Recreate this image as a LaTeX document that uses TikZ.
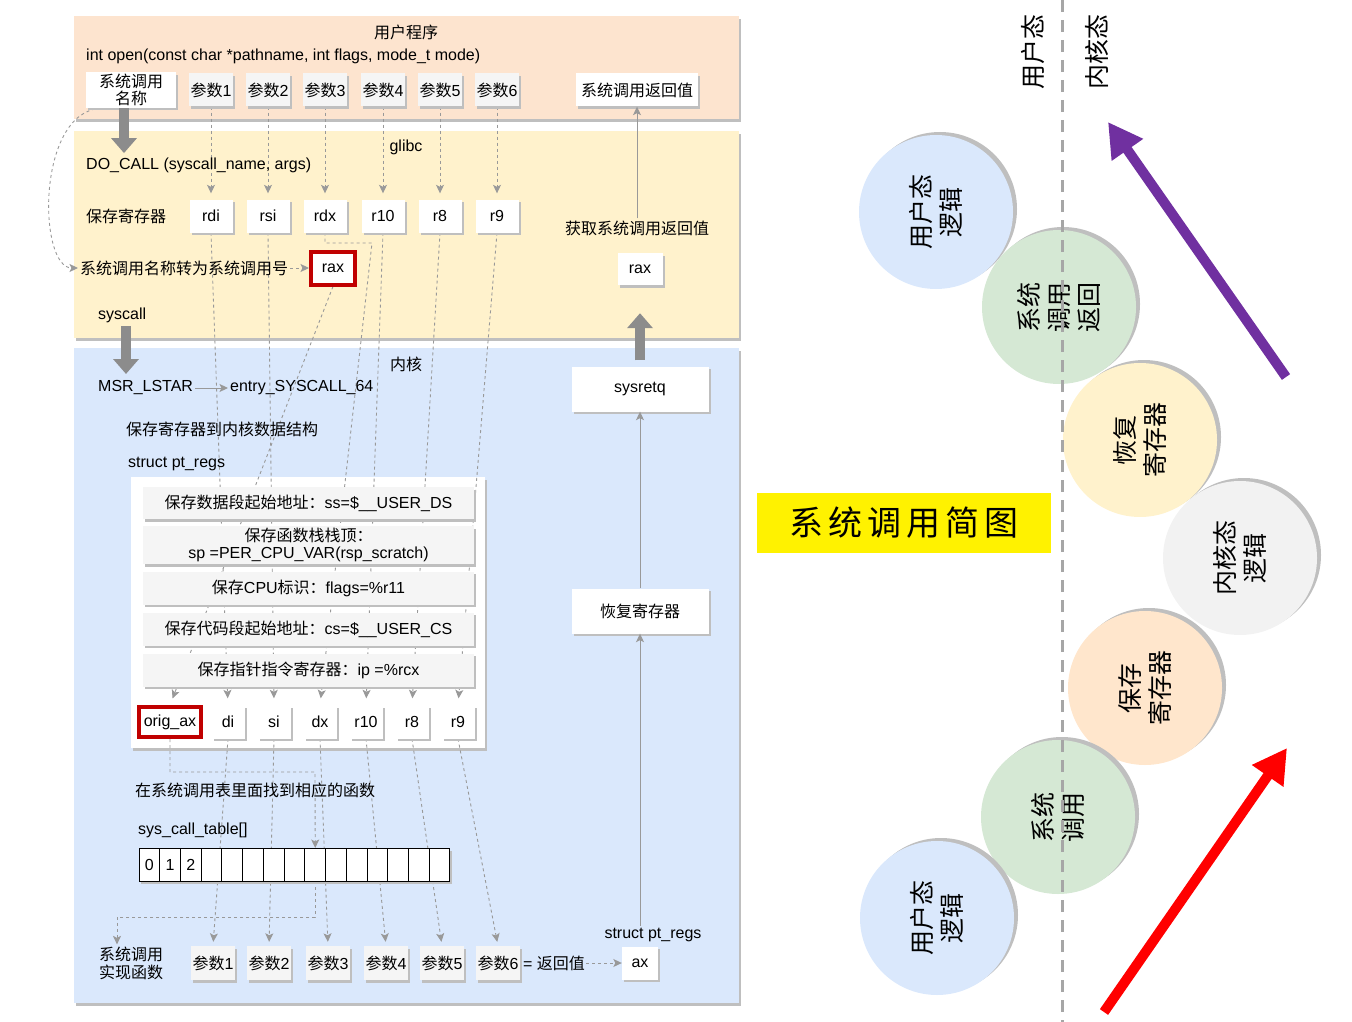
\documentclass[tikz,border=0pt]{standalone}
\usepackage{fontspec}
\setmainfont{Liberation Sans}
\newfontfamily\cjk{Noto Sans CJK SC}
\usetikzlibrary{arrows.meta,shadows,calc}
\definecolor{peachbg}{HTML}{FDE4CF}
\definecolor{glibcbg}{HTML}{FFF2CC}
\definecolor{kernbg}{HTML}{DAE8FC}
\definecolor{boxgray}{HTML}{F5F5F5}
\definecolor{lgray}{HTML}{999999}
\definecolor{darkred}{HTML}{C00000}
\definecolor{cblue}{HTML}{DAE8FC}
\definecolor{cgreen}{HTML}{D5E8D4}
\definecolor{cyellow}{HTML}{FFF2CC}
\definecolor{cgrey}{HTML}{F2F2F2}
\definecolor{cpeach}{HTML}{FFE6CC}
\definecolor{apurple}{HTML}{7030A0}
\newcommand\basefs{\fontsize{16}{18.5}\selectfont}
\newcommand\zhtxt[1]{{\cjk #1}}
\pgfdeclarelayer{back}
\pgfdeclarelayer{mid}
\pgfsetlayers{back,mid,main}
\begin{document}
\begin{tikzpicture}[x=1pt,y=-1pt,
  every node/.style={font=\basefs, inner sep=2pt},
  shad/.style={drop shadow={shadow xshift=2pt,shadow yshift=-2.5pt,fill=black!25,opacity=1}},
  panel/.style={anchor=north west, inner sep=0pt, shad},
  wbox/.style={fill=white, shad, minimum height=33, inner sep=2pt},
  gbox/.style={fill=boxgray, shad, minimum height=33, inner sep=2pt},
  redbox/.style={fill=white, draw=darkred, line width=4pt, inner sep=3pt},
  dline/.style={draw=lgray, dash pattern=on 3pt off 3pt, line width=0.9pt},
  myarr/.style={-{Stealth[length=8.5pt,width=8pt,inset=2pt]}},
  sline/.style={draw=lgray, line width=1pt},
  bigarrow/.style={draw=black!45, line width=10pt, -{Triangle[length=15pt,width=25pt]}},
  circ/.style={circle, minimum size=154, inner sep=0pt, drop shadow={shadow xshift=4pt,shadow yshift=3pt,fill=black!25,opacity=1}},
  ctext/.style={rotate=90, align=center, font=\cjk\fontsize{25}{30}\selectfont},
  cell/.style={draw=black, line width=1pt, fill=white, minimum width=20.73, minimum height=33, inner sep=0pt, outer sep=0pt, shad},
]
\useasboundingbox (0,0) rectangle (1352,1022);

% ---------- panels ----------
\begin{pgfonlayer}{back}
\node[panel, fill=peachbg, minimum width=665, minimum height=103] (pu) at (74,16) {};
\node[panel, fill=glibcbg, minimum width=665, minimum height=207] (pg) at (74,131) {};
\node[panel, fill=kernbg, minimum width=665, minimum height=655] (pk) at (74,348) {};
\node[panel, fill=white, minimum width=354, minimum height=271] (ptbox) at (131,477) {};
\end{pgfonlayer}

% ---------- user program ----------
\node (tuser) at (406,32) {\zhtxt{用户程序}};
\node[anchor=west] (topen) at (84,56) {int open(const char *pathname, int flags, mode\_t mode)};
\node[wbox, minimum width=90, minimum height=35, align=center, font=\cjk\fontsize{16}{17}\selectfont] (bname) at (131,90) {系统调用\\名称};
\foreach \n/\x in {1/211,2/268,3/325,4/383,5/440,6/497}
  \node[gbox, minimum width=43] (p\n) at (\x,90) {\zhtxt{参数}\n};
\node[wbox, minimum width=122] (bret) at (637,90) {\zhtxt{系统调用返回值}};

% ---------- glibc ----------
\node (tglibc) at (406,147) {glibc};
\node[anchor=west] (tdocall) at (84,165) {DO\_CALL (syscall\_name, args)};
\node[anchor=west] (tsave) at (84,216) {\zhtxt{保存寄存器}};
\foreach \n/\x/\t in {1/211/rdi,2/268/rsi,3/325/rdx,4/383/r10,5/440/r8,6/497/r9}
  \node[wbox, minimum width=43] (g\n) at (\x,216) {\t};
\node (tgetret) at (637,228) {\zhtxt{获取系统调用返回值}};
\node[anchor=west] (tconv) at (78,268) {\zhtxt{系统调用名称转为系统调用号}};
\node[redbox, minimum width=44, minimum height=33] (rax1) at (333,268) {rax};
\node[wbox, minimum width=45, minimum height=32] (rax2) at (640,269) {rax};
\node[anchor=west] (tsyscall) at (96,315) {syscall};

% ---------- kernel ----------
\node (tkernel) at (406,364) {\zhtxt{内核}};
\node[anchor=west] (tmsr) at (96,388) {MSR\_LSTAR};
\node[anchor=west] (tentry) at (228,388) {entry\_SYSCALL\_64};
\node[wbox, minimum width=137, minimum height=45] (sysretq) at (640,389) {sysretq};
\node[anchor=west] (tsavek) at (124,429) {\zhtxt{保存寄存器到内核数据结构}};
\node[anchor=west] (tpt) at (126,464) {struct pt\_regs};

\node[gbox, minimum width=331, minimum height=32] (row1) at (308.5,503) {\zhtxt{保存数据段起始地址：}ss=\$\_\_USER\_DS};
\node[gbox, minimum width=331, minimum height=38, align=center, font=\fontsize{16}{17}\selectfont] (row2) at (308.5,545) {\zhtxt{保存函数栈栈顶：}\\sp =PER\_CPU\_VAR(rsp\_scratch)};
\node[gbox, minimum width=331, minimum height=33] (row3) at (308.5,588) {\zhtxt{保存}CPU\zhtxt{标识：}flags=\%r11};
\node[gbox, minimum width=331, minimum height=33] (row4) at (308.5,629) {\zhtxt{保存代码段起始地址：}cs=\$\_\_USER\_CS};
\node[gbox, minimum width=331, minimum height=33] (row5) at (308.5,670) {\zhtxt{保存指针指令寄存器：}ip =\%rcx};

\node[redbox, minimum width=62, minimum height=30] (k0) at (170,722) {orig\_ax};
\foreach \n/\x/\t in {1/228/di,2/274/si,3/320/dx,4/366/r10,5/412/r8,6/458/r9}
  \node[wbox, minimum width=33, minimum height=33, inner sep=1pt] (k\n) at (\x,722) {\t};

\node[anchor=west] (tfind) at (133,790) {\zhtxt{在系统调用表里面找到相应的函数}};
\node[anchor=west] (ttable) at (136,830) {sys\_call\_table[]};
\foreach \i in {0,1,2}
  \node[cell] (c\i) at ({149.4+20.73*\i},864.5) {\i};
\foreach \i in {3,...,14}
  \node[cell] (c\i) at ({149.4+20.73*\i},864.5) {};

\node[anchor=west, align=left, font=\cjk\fontsize{16}{18}\selectfont] (timpl) at (97,963) {系统调用\\实现函数};
\foreach \n/\x in {1/213,2/269,3/328,4/386,5/442,6/498}
  \node[gbox, minimum width=43, minimum height=34] (a\n) at (\x,963) {\zhtxt{参数}\n};
\node[anchor=west, inner sep=1pt] (teq) at (522,963) {= \zhtxt{返回值}};
\node[wbox, minimum width=36, minimum height=33] (ax) at (640,963) {ax};
\node (tpt2) at (653,935) {struct pt\_regs};
\node[wbox, minimum width=137, minimum height=45] (restore) at (640,611) {\zhtxt{恢复寄存器}};

% ---------- connectors ----------
\coordinate (dxelbow) at (372,243);
\coordinate (oj) at (315,772);
\coordinate (tk) at (117,917);
\coordinate (sc1) at (126,326);
\coordinate (sc2) at (126,374);
\begin{pgfonlayer}{mid}
\foreach \n in {1,...,6}
  \draw[dline, myarr, shorten >=6pt] (p\n.south) -- (g\n.north);
\draw[dline, myarr] ([xshift=-30pt]bname.south) .. controls (36,112) and (38,268) .. (tconv.west);
\draw[dline, myarr] (tconv.east) -- (rax1.west);
\foreach \n in {1,2,4,5,6}
  \draw[dline, myarr, shorten >=7pt] (g\n.south) -- (k\n.north);
\draw[dline, myarr, shorten >=7pt] (g3.south) |- (dxelbow) -- (k3.north);
\draw[dline, myarr, shorten >=7pt] (rax1.south) -- (k0.north);
\foreach \n in {1,...,6}
  \draw[dline, myarr, shorten >=4pt] (k\n.south) -- (a\n.north);
\draw[dline, myarr] (k0.south) |- (oj) -- (c8.north);
\draw[dline, myarr] (c8.south) |- (tk) -- (tk |- timpl.north);
\draw[dline, myarr] (teq.east) -- (ax.west);
\end{pgfonlayer}

\draw[sline, myarr] (tgetret.north) -- (bret.south);
\draw[sline, myarr] (tmsr.east) -- (tentry.west);
\draw[sline, myarr] (restore.north) -- (sysretq.south);
\draw[sline, myarr] (tpt2.north -| restore.south) -- (restore.south);

\draw[bigarrow] ([xshift=-7pt]bname.south) -- ([xshift=-7pt,yshift=-45pt]bname.south);
\draw[bigarrow] (sc1) -- (sc2);
\draw[bigarrow] ([yshift=6pt]sysretq.north) -- ([yshift=-28pt]rax2.south);

% ---------- right side ----------
\node[circ, fill=cblue] (s1) at (936,212) {};
\node[ctext] (s1t) at (s1) {用户态\\逻辑};
\node[circ, fill=cgreen] (s2) at (1059,307) {};
\node[ctext] (s2t) at (s2) {系统\\调用\\返回};
\node[circ, fill=cyellow] (s3) at (1140,440) {};
\node[ctext] (s3t) at (s3) {恢复\\寄存器};
\node[circ, fill=cgrey] (s4) at (1240,558) {};
\node[ctext] (s4t) at (s4) {内核态\\逻辑};
\node[circ, fill=cpeach] (s5) at (1145,688) {};
\node[ctext] (s5t) at (s5) {保存\\寄存器};
\node[circ, fill=cgreen] (s6) at (1058,817) {};
\node[ctext] (s6t) at (s6) {系统\\调用};
\node[circ, fill=cblue] (s7) at (937,918) {};
\node[ctext] (s7t) at (s7) {用户态\\逻辑};

\coordinate (vtop) at (1062,0);
\coordinate (vbot) at (1062,1022);
\draw[draw=black!35, line width=3pt, dash pattern=on 12pt off 8pt] (vtop) -- (vbot);

\node[rotate=90, font=\cjk\fontsize{25}{30}\selectfont] (luser) at (1033,52) {用户态};
\node[rotate=90, font=\cjk\fontsize{25}{30}\selectfont] (lkern) at (1097,52) {内核态};

\coordinate (pa1) at (1286,377);
\coordinate (pa2) at (1108,122);
\draw[apurple, line width=10pt, -{Triangle[length=34pt,width=36pt]}] (pa1) -- (pa2);
\coordinate (ra1) at (1104,1012);
\coordinate (ra2) at (1287,748);
\draw[red, line width=10pt, -{Triangle[length=34pt,width=36pt]}] (ra1) -- (ra2);

\node[fill=yellow, minimum width=294, minimum height=60, font=\cjk\fontsize{34}{40}\selectfont] (title) at (904,523) {系\hspace{5pt}统\hspace{5pt}调\hspace{5pt}用\hspace{5pt}简\hspace{5pt}图};
\end{tikzpicture}
\end{document}
